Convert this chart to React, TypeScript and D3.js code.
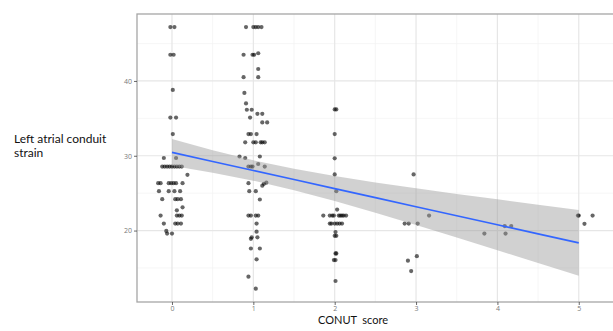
import { useEffect, useRef } from 'react';
import * as d3 from 'd3';

// CONUT score (jittered) and left atrial conduit strain, read per column
const col0: [number, number][] = [
  [-0.02, 47.2], [0.03, 47.2], [-0.02, 43.5], [0.02, 43.5], [0.01, 38.8],
  [-0.02, 35.1], [0.05, 35.1], [0.01, 32.9], [-0.1, 29.7], [0.05, 29.7],
  [-0.12, 28.55], [-0.09, 28.55], [-0.06, 28.55], [-0.03, 28.55], [0.0, 28.55],
  [0.03, 28.55], [0.06, 28.55], [0.09, 28.55], [0.12, 28.55], [0.19, 27.45],
  [-0.17, 26.33], [-0.14, 26.33], [-0.04, 26.33], [-0.01, 26.33], [0.02, 26.33],
  [0.05, 26.33], [0.13, 26.33], [-0.16, 25.27], [-0.04, 25.27], [0.03, 25.27],
  [0.1, 25.27], [-0.12, 24.2], [0.04, 24.2], [0.07, 24.2], [0.11, 24.2],
  [0.13, 23.1], [0.06, 22.7], [-0.14, 22.0], [0.06, 22.0], [0.09, 22.0],
  [0.12, 22.0], [-0.1, 20.93], [0.04, 20.93], [0.07, 20.93], [0.11, 20.93],
  [-0.07, 19.95], [-0.06, 19.6], [0.0, 19.6],
];
const col1: [number, number][] = [
  [0.91, 47.2], [1.0, 47.2], [1.03, 47.2], [1.06, 47.2], [1.1, 47.2],
  [0.88, 43.5], [0.99, 43.5], [1.01, 43.5], [1.06, 43.7], [1.06, 41.6],
  [0.88, 40.5], [1.06, 40.5], [0.89, 38.4], [0.91, 37.0], [0.92, 36.15],
  [0.98, 36.15], [1.05, 35.6], [1.11, 35.6], [0.96, 35.1], [1.11, 34.45],
  [1.17, 34.45], [0.94, 32.9], [0.97, 32.9], [1.04, 32.9], [0.9, 31.8],
  [1.0, 31.8], [1.03, 31.8], [1.09, 31.8], [1.11, 31.8], [1.14, 31.8],
  [0.83, 29.9], [0.9, 29.7], [1.08, 29.9], [0.94, 28.55], [0.97, 28.55],
  [0.99, 28.55], [1.14, 28.55], [1.06, 28.9], [0.94, 26.33], [1.11, 26.0],
  [1.13, 26.25], [1.16, 26.4], [0.95, 25.27], [1.03, 25.27], [1.08, 24.15],
  [0.94, 22.0], [0.97, 22.0], [1.03, 22.0], [1.06, 22.0], [1.04, 20.93],
  [1.04, 19.85], [0.97, 18.9], [0.98, 19.1], [1.05, 19.1], [0.97, 17.6],
  [1.08, 17.6], [1.04, 16.15], [0.94, 13.83], [1.03, 12.23],
];
const col2: [number, number][] = [
  [2.0, 36.2], [2.02, 36.2], [2.0, 32.9], [2.0, 29.65], [2.0, 27.5],
  [2.02, 25.27], [2.03, 22.8], [1.86, 22.0], [1.94, 22.0], [1.97, 22.0],
  [1.99, 22.0], [2.05, 22.0], [2.07, 22.0], [2.09, 22.0], [2.11, 22.0],
  [2.14, 22.0], [1.94, 20.93], [1.96, 20.93], [2.0, 20.93], [2.03, 20.93],
  [2.06, 20.93], [2.09, 20.93], [2.01, 19.8], [2.0, 19.3], [2.02, 19.3],
  [2.01, 16.94], [2.02, 16.94], [1.99, 16.05], [2.01, 16.05], [2.01, 13.26],
];
const col3: [number, number][] = [
  [2.97, 27.5], [2.86, 20.93], [2.91, 20.93], [3.02, 20.93], [3.16, 22.0],
  [3.01, 16.58], [2.9, 15.97], [2.94, 14.59],
];
const col4: [number, number][] = [[3.84, 19.6], [4.09, 20.6], [4.17, 20.6], [4.1, 19.6]];
const col5: [number, number][] = [[4.99, 22.0], [5.0, 22.0], [5.07, 20.9], [5.17, 22.0]];

// linear fit with 95% band
const fitX = [0, 0.5, 1, 1.5, 2, 2.5, 3, 3.5, 4, 4.5, 5];
const fitY = [30.45, 29.24, 28.03, 26.82, 25.61, 24.4, 23.19, 21.98, 20.77, 19.56, 18.35];
const fitLow = [28.65, 27.74, 26.67, 25.39, 23.94, 22.37, 20.74, 19.07, 17.37, 15.67, 13.95];
const fitHigh = [32.25, 30.74, 29.39, 28.25, 27.28, 26.43, 25.64, 24.89, 24.17, 23.45, 22.75];

const xTicks = [0, 1, 2, 3, 4, 5];
const xMinor = [0.5, 1.5, 2.5, 3.5, 4.5];
const yTicks = [20, 30, 40];
const yMinor = [15, 25, 35, 45];

const W = 613;
const H = 331;

export default function App() {
  const svgRef = useRef<SVGSVGElement>(null);

  useEffect(() => {
    if (!svgRef.current) return;
    const svg = d3.select(svgRef.current);
    svg.selectAll('*').remove();

    const left = 137, right = 617, top = 14, bottom = 302;
    const x = d3.scaleLinear().domain([-0.43, 5.47]).range([left, right]);
    const y = d3.scaleLinear().domain([10.45, 48.95]).range([bottom, top]);

    svg.append('rect').attr('width', W).attr('height', H).attr('fill', '#fff');

    // grid
    const grid = svg.append('g');
    grid.selectAll('.vmin').data(xMinor).enter().append('line')
      .attr('x1', d => x(d)).attr('x2', d => x(d)).attr('y1', top).attr('y2', bottom)
      .attr('stroke', '#f2f2f2').attr('stroke-width', 0.7);
    grid.selectAll('.hmin').data(yMinor).enter().append('line')
      .attr('y1', d => y(d)).attr('y2', d => y(d)).attr('x1', left).attr('x2', right)
      .attr('stroke', '#f2f2f2').attr('stroke-width', 0.7);
    grid.selectAll('.vmaj').data(xTicks).enter().append('line')
      .attr('x1', d => x(d)).attr('x2', d => x(d)).attr('y1', top).attr('y2', bottom)
      .attr('stroke', '#e6e6e6').attr('stroke-width', 1.2);
    grid.selectAll('.hmaj').data(yTicks).enter().append('line')
      .attr('y1', d => y(d)).attr('y2', d => y(d)).attr('x1', left).attr('x2', right)
      .attr('stroke', '#e6e6e6').attr('stroke-width', 1.2);

    // points
    const pts = [...col0, ...col1, ...col2, ...col3, ...col4, ...col5];
    svg.append('g').selectAll('circle').data(pts).enter().append('circle')
      .attr('cx', d => x(d[0])).attr('cy', d => y(d[1])).attr('r', 2.1)
      .attr('fill', '#000').attr('fill-opacity', 0.6);

    // smooth
    const band = d3.area<number>()
      .x((_, i) => x(fitX[i]))
      .y0((_, i) => y(fitLow[i]))
      .y1((_, i) => y(fitHigh[i]));
    svg.append('path').datum(fitX).attr('d', band)
      .attr('fill', '#999').attr('fill-opacity', 0.45);
    const line = d3.line<number>().x((_, i) => x(fitX[i])).y((_, i) => y(fitY[i]));
    svg.append('path').datum(fitX).attr('d', line)
      .attr('fill', 'none').attr('stroke', '#3366FF').attr('stroke-width', 1.6);

    // panel border
    svg.append('rect').attr('x', left).attr('y', top)
      .attr('width', right - left).attr('height', bottom - top)
      .attr('fill', 'none').attr('stroke', '#a6a6a6').attr('stroke-width', 1.3);

    // axes
    const axisX = svg.append('g').attr('transform', `translate(0,${bottom})`)
      .call(d3.axisBottom(x).tickValues(xTicks).tickSize(3).tickPadding(1).tickFormat(d3.format('d')));
    const axisY = svg.append('g').attr('transform', `translate(${left},0)`)
      .call(d3.axisLeft(y).tickValues(yTicks).tickSize(3).tickPadding(2).tickFormat(d3.format('d')));
    [axisX, axisY].forEach(a => {
      a.select('.domain').remove();
      a.selectAll('line').attr('stroke', '#444').attr('stroke-width', 0.8);
      a.selectAll('text').attr('fill', '#7a7a7a')
        .style('font-family', 'Open Sans, sans-serif').style('font-size', '7px');
    });

    // titles
    svg.append('text').attr('x', 353).attr('y', 324).attr('text-anchor', 'middle')
      .style('font-family', 'Lato, sans-serif').style('font-size', '11px')
      .attr('fill', '#111').attr('xml:space', 'preserve').text('CONUT  score');
    const yt = svg.append('text').attr('x', 14).attr('y', 143)
      .style('font-family', 'Lato, sans-serif').style('font-size', '12px').attr('fill', '#111');
    yt.append('tspan').attr('x', 14).text('Left atrial conduit');
    yt.append('tspan').attr('x', 14).attr('dy', 14).text('strain');
  }, []);

  return (
    <div style={{ position: 'fixed', left: 0, top: 0 }}>
      <svg ref={svgRef} width={W} height={H} style={{ display: 'block' }}></svg>
    </div>
  );
}
